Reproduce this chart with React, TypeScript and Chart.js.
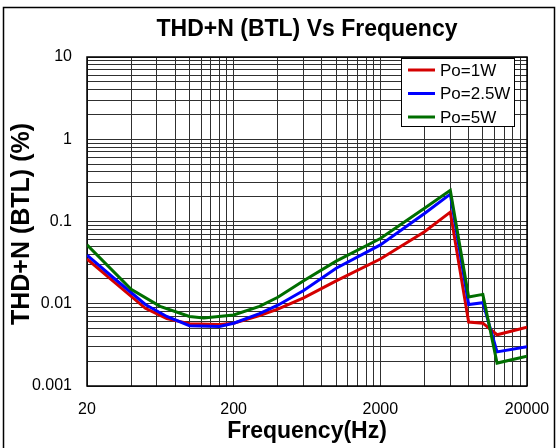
import React, { useEffect, useRef } from "react";
import { Chart, registerables } from "chart.js";

Chart.register(...registerables);

const FONT = "'Liberation Sans', Arial, Helvetica, sans-serif";

const TITLE = "THD+N (BTL) Vs Frequency";
const X_TITLE = "Frequency(Hz)";
const Y_TITLE = "THD+N (BTL) (%)";

const X_GRID = [
  20, 40, 60, 80, 100, 120, 140, 160, 180, 200,
  400, 600, 800, 1000, 1200, 1400, 1600, 1800, 2000,
  4000, 6000, 8000, 10000, 12000, 14000, 16000, 18000, 20000,
];
const X_LABELS = [20, 200, 2000, 20000];

const Y_GRID = [
  0.001, 0.002, 0.003, 0.004, 0.005, 0.006, 0.007, 0.008, 0.009,
  0.01, 0.02, 0.03, 0.04, 0.05, 0.06, 0.07, 0.08, 0.09,
  0.1, 0.2, 0.3, 0.4, 0.5, 0.6, 0.7, 0.8, 0.9,
  1, 2, 3, 4, 5, 6, 7, 8, 9, 10,
];
const Y_LABELS = [0.001, 0.01, 0.1, 1, 10];

const SERIES_NAMES = ["Po=1W", "Po=2.5W", "Po=5W"];
const SERIES_COLORS = ["#d40000", "#0000ff", "#006e00"];

const FREQ_1W = [20, 30, 50, 70, 100, 160, 200, 300, 400, 600, 1000, 2000, 4000, 6000, 8000, 10000, 12500, 20000];
const THD_1W = [0.035, 0.019, 0.0088, 0.0066, 0.0057, 0.0056, 0.0058, 0.0072, 0.0086, 0.0118, 0.019, 0.035, 0.075, 0.13, 0.006, 0.0058, 0.0042, 0.0052];

const FREQ_25W = [20, 30, 50, 70, 100, 160, 200, 300, 400, 600, 1000, 2000, 4000, 6000, 8000, 10000, 12500, 20000];
const THD_25W = [0.039, 0.021, 0.0098, 0.007, 0.0054, 0.0053, 0.0058, 0.0076, 0.0096, 0.0145, 0.027, 0.052, 0.125, 0.215, 0.0098, 0.0103, 0.0026, 0.003];

const FREQ_5W = [20, 40, 63, 100, 125, 200, 300, 400, 600, 1000, 2000, 4000, 6000, 8000, 10000, 12500, 20000];
const THD_5W = [0.052, 0.015, 0.0093, 0.007, 0.0067, 0.0073, 0.0093, 0.012, 0.019, 0.033, 0.062, 0.145, 0.24, 0.0121, 0.013, 0.0019, 0.0023];

const pts = (xs: number[], ys: number[]) => xs.map((x, i) => ({ x, y: ys[i] }));

const decorPlugin = {
  id: "decor",
  beforeDatasetsDraw(chart: any) {
    const { ctx, chartArea } = chart;
    ctx.save();
    ctx.strokeStyle = "#000";
    ctx.lineWidth = 1.5;
    ctx.strokeRect(chartArea.left, chartArea.top, chartArea.right - chartArea.left, chartArea.bottom - chartArea.top);
    ctx.restore();
  },
  afterDraw(chart: any) {
    const { ctx, chartArea } = chart;
    ctx.save();
    ctx.strokeStyle = "#000";
    ctx.lineWidth = 1.5;
    ctx.strokeRect(3.5, 7.5, 551, 450);
    ctx.fillStyle = "#000";
    ctx.font = `bold 23px ${FONT}`;
    ctx.textAlign = "center";
    ctx.textBaseline = "middle";
    ctx.fillText(TITLE, (chartArea.left + chartArea.right) / 2, 30);
    // y axis title
    ctx.save();
    ctx.translate(22, 224);
    ctx.rotate(-Math.PI / 2);
    ctx.font = `bold 25px ${FONT}`;
    ctx.fillText(Y_TITLE, 0, 0);
    ctx.restore();
    const bx = 401.5, by = 58.5, bw = 113, bh = 68;
    ctx.fillStyle = "#fff";
    ctx.fillRect(bx, by, bw, bh);
    ctx.strokeStyle = "#000";
    ctx.lineWidth = 1;
    ctx.strokeRect(bx, by, bw, bh);
    ctx.font = `17px ${FONT}`;
    ctx.textAlign = "left";
    chart.data.datasets.forEach((ds: any, i: number) => {
      const y = 70 + 23.5 * i;
      ctx.strokeStyle = ds.borderColor;
      ctx.lineWidth = 3;
      ctx.beginPath();
      ctx.moveTo(408, y);
      ctx.lineTo(435, y);
      ctx.stroke();
      ctx.fillStyle = "#000";
      ctx.fillText(ds.label, 440, y + 1);
    });
    ctx.restore();
  },
};

export default function App() {
  const ref = useRef<HTMLCanvasElement | null>(null);
  useEffect(() => {
    if (!ref.current) return;
    const mk = (i: number, data: any[], order: number) => ({
      label: SERIES_NAMES[i],
      data,
      borderColor: SERIES_COLORS[i],
      backgroundColor: SERIES_COLORS[i],
      borderWidth: 3,
      pointRadius: 0,
      tension: 0,
      fill: false,
      order,
    });
    const chart = new Chart(ref.current, {
      type: "line",
      data: {
        datasets: [
          mk(0, pts(FREQ_1W, THD_1W), 3),
          mk(1, pts(FREQ_25W, THD_25W), 2),
          mk(2, pts(FREQ_5W, THD_5W), 1),
        ],
      },
      options: {
        animation: false,
        responsive: false,
        maintainAspectRatio: false,
        devicePixelRatio: 1,
        layout: { padding: { top: 57, right: 29, bottom: 0, left: 0 } },
        plugins: { legend: { display: false }, title: { display: false }, tooltip: { enabled: false } },
        scales: {
          x: {
            type: "logarithmic",
            min: 20,
            max: 20000,
            afterBuildTicks: (scale: any) => {
              scale.ticks = X_GRID.map((v) => ({ value: v }));
            },
            afterFit: (scale: any) => {
              scale.height = 62;
              scale.paddingLeft = 0;
              scale.paddingRight = 0;
            },
            grid: { color: "#303030", lineWidth: 1, drawTicks: false },
            border: { display: false },
            ticks: {
              autoSkip: false,
              maxRotation: 0,
              padding: 14,
              color: "#000",
              font: { family: FONT, size: 16 },
              callback: (v: any) => (X_LABELS.includes(Number(v)) ? String(v) : ""),
            },
            title: {
              display: true,
              text: X_TITLE,
              color: "#000",
              font: { family: FONT, size: 23, weight: "bold" },
              padding: { top: 0, bottom: 3 },
            },
          },
          y: {
            type: "logarithmic",
            min: 0.001,
            max: 10,
            afterBuildTicks: (scale: any) => {
              scale.ticks = Y_GRID.map((v) => ({ value: v }));
            },
            afterFit: (scale: any) => {
              scale.width = 87;
              scale.paddingTop = 0;
              scale.paddingBottom = 0;
            },
            grid: { color: "#303030", lineWidth: 1, drawTicks: false },
            border: { display: false },
            ticks: {
              autoSkip: false,
              padding: 15,
              color: "#000",
              font: { family: FONT, size: 16 },
              callback: (v: any) => (Y_LABELS.includes(Number(v)) ? String(v) : ""),
            },
            title: { display: false },
          },
        },
      },
      plugins: [decorPlugin],
    });
    return () => chart.destroy();
  }, []);
  return (
    <div style={{ position: "absolute", left: 0, top: 0, width: 556, height: 448, background: "#fff" }}>
      <canvas ref={ref} width={556} height={448} style={{ display: "block" }} />
    </div>
  );
}
